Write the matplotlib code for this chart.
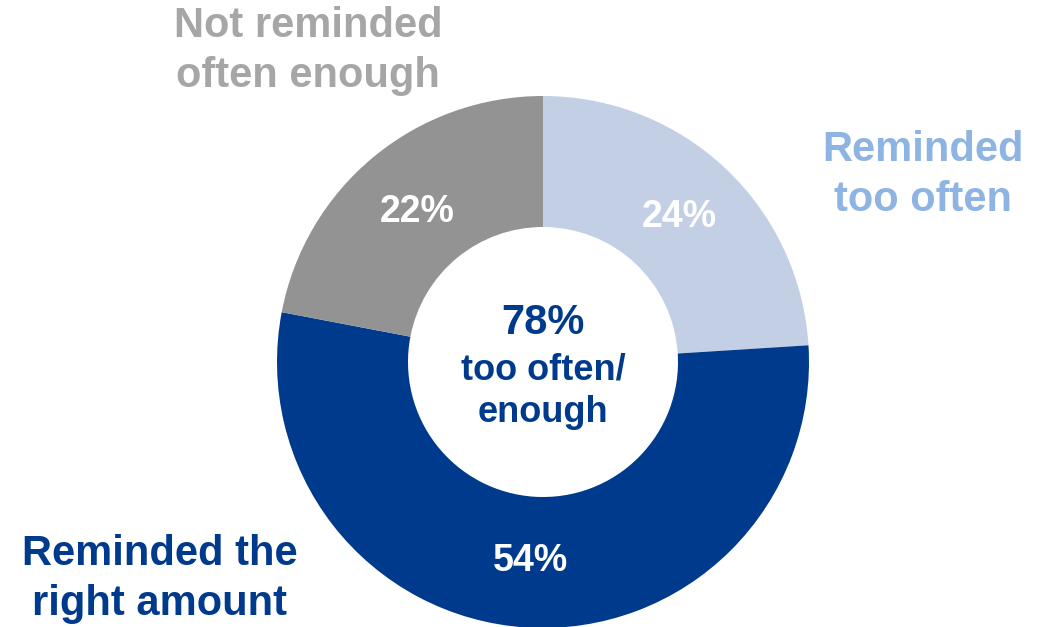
import matplotlib.pyplot as plt
import numpy as np

plt.rcParams['font.family'] = ['Liberation Sans', 'DejaVu Sans']

labels = ['Reminded\ntoo often', 'Reminded the\nright amount', 'Not reminded\noften enough']
shares = [24, 54, 22]
colors = ['#c3cfe5', '#003a8c', '#939393']
label_colors = ['#8db4e2', '#003a8c', '#a6a6a6']
center_lines = ['78%', 'too often/', 'enough']

W, H = 1055, 627
fig = plt.figure(figsize=(W / 100, H / 100), dpi=100)
ax = fig.add_axes([0, 0, 1, 1])

cx, cy, r = 543, H - 362, 266
wedges, texts, pcts = ax.pie(
    shares, colors=colors, startangle=90, counterclock=False,
    center=(cx, cy), radius=r, autopct='%d%%', pctdistance=0.75,
    wedgeprops=dict(width=r - 135, linewidth=0),
    textprops=dict(color='white', fontsize=27, fontweight='bold'))

# pull the grey percentage a bit toward the top of its slice
ang = np.deg2rad(130)
pcts[2].set_position((cx + 196 * np.cos(ang), cy + 196 * np.sin(ang)))

ax.text(cx, H - 323, center_lines[0], ha='center', va='center',
        color='#003a8c', fontsize=30, fontweight='bold')
ax.text(cx, H - 370, center_lines[1], ha='center', va='center',
        color='#003a8c', fontsize=26, fontweight='bold')
ax.text(cx, H - 412, center_lines[2], ha='center', va='center',
        color='#003a8c', fontsize=26, fontweight='bold')

# category names around the ring
ax.text(923, H - 175, labels[0], ha='center', va='center',
        color=label_colors[0], fontsize=30, fontweight='bold', linespacing=1.33)
ax.text(160, H - 579, labels[1], ha='center', va='center',
        color=label_colors[1], fontsize=30, fontweight='bold', linespacing=1.33)
ax.text(308, H - 51, labels[2], ha='center', va='center',
        color=label_colors[2], fontsize=30, fontweight='bold', linespacing=1.33)

ax.set_xlim(0, W)
ax.set_ylim(0, H)
ax.set_aspect('equal')
ax.axis('off')

plt.savefig('out.png', dpi=100)
